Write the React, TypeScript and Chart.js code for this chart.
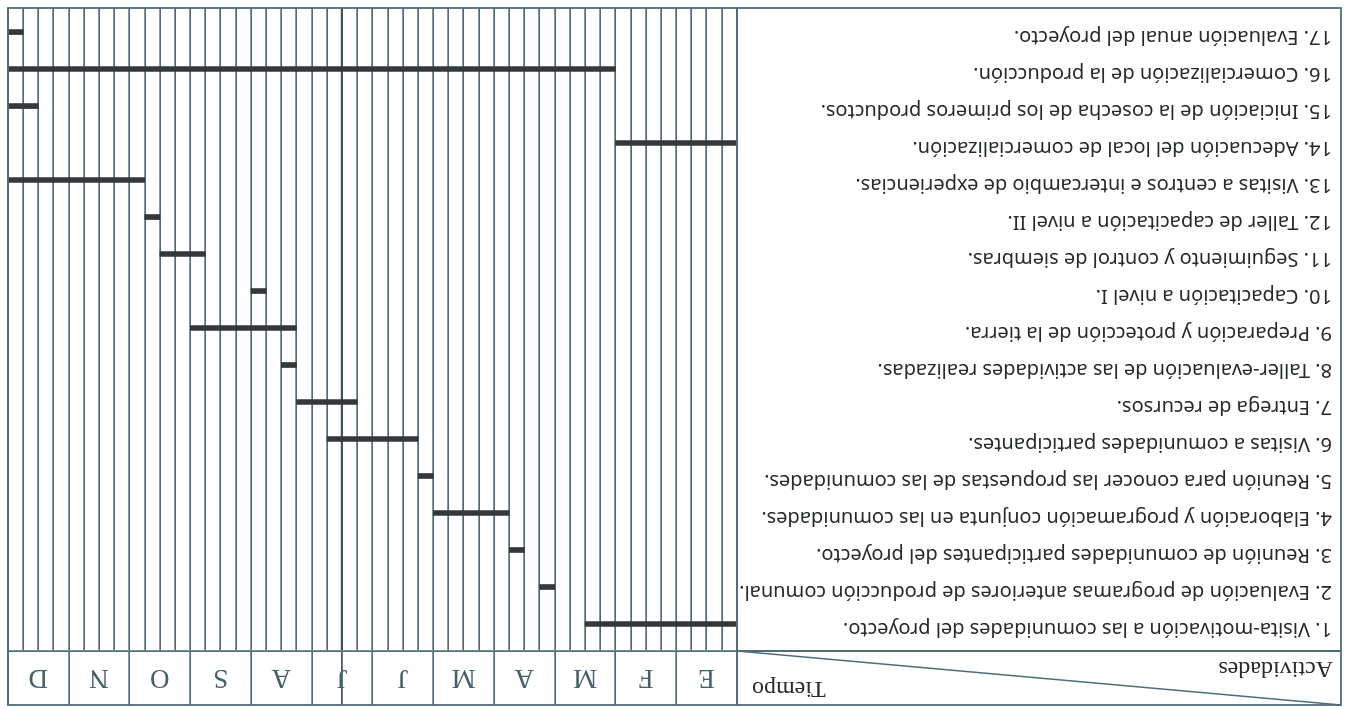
import React, { useEffect, useRef } from "react";
import { Chart, registerables } from "chart.js";

Chart.register(...registerables);

// ---- data ----
const months = ["E", "F", "M", "A", "M", "J", "J", "A", "S", "O", "N", "D"];
const weeksPerMonth = 4;
const activities = [
  "1. Visita-motivación a las comunidades del proyecto.",
  "2. Evaluación de programas anteriores de producción comunal.",
  "3. Reunión de comunidades participantes del proyecto.",
  "4. Elaboración y programación conjunta en las comunidades.",
  "5. Reunión para conocer las propuestas de las comunidades.",
  "6. Visitas a comunidades participantes.",
  "7. Entrega de recursos.",
  "8. Taller-evaluación de las actividades realizadas.",
  "9. Preparación y protección de la tierra.",
  "10. Capacitación a nivel I.",
  "11. Seguimiento y control de siembras.",
  "12. Taller de capacitación a nivel II.",
  "13. Visitas a centros e intercambio de experiencias.",
  "14. Adecuación del local de comercialización.",
  "15. Iniciación de la cosecha de los primeros productos.",
  "16. Comercialización de la producción.",
  "17. Evaluación anual del proyecto.",
];
// week index (0..48) where each activity starts / ends
const startWeek = [0, 12, 14, 15, 20, 21, 25, 29, 29, 31, 35, 38, 39, 0, 46, 8, 47];
const endWeek = [10, 13, 15, 20, 21, 27, 29, 30, 36, 32, 38, 39, 48, 8, 48, 48, 48];
const headerRowLabel = "Actividades";
const headerColLabel = "Tiempo";
const gutterWeek = 26;

// ---- styles ----
const W = 1348;
const H = 709;
const lineColor = "#4f6c79";
const darkLine = "#3a525c";
const textColor = "#262a2b";
const monthColor = "#46606b";
const serif = "'Liberation Serif', 'DejaVu Serif', serif";
const sans = "'Noto Sans', 'DejaVu Sans', sans-serif";
const frameLeft = 7;
const headerH = 54;

const framePlugin = {
  id: "frame",
  afterDraw(chart: any) {
    const { ctx, chartArea } = chart;
    const xs = chart.scales.x;
    const top = xs.top;
    const hb = chartArea.top;
    const left = frameLeft;
    const right = chartArea.right;
    const bottom = chartArea.bottom;
    ctx.save();
    ctx.strokeStyle = lineColor;
    ctx.lineWidth = 1.8;
    ctx.strokeRect(left, top, right - left, bottom - top);
    ctx.beginPath();
    ctx.moveTo(left, hb);
    ctx.lineTo(chartArea.left, hb);
    ctx.moveTo(chartArea.left, top);
    ctx.lineTo(chartArea.left, bottom);
    ctx.stroke();
    ctx.lineWidth = 1.5;
    ctx.beginPath();
    ctx.moveTo(left, top);
    ctx.lineTo(chartArea.left, hb);
    ctx.stroke();
    ctx.fillStyle = textColor;
    ctx.font = `24px ${serif}`;
    ctx.textBaseline = "alphabetic";
    ctx.textAlign = "left";
    ctx.fillText(headerRowLabel, left + 8, hb - 11);
    ctx.textAlign = "right";
    ctx.fillText(headerColLabel, chartArea.left - 15, top + 23);
    ctx.restore();
  },
};

export default function App() {
  const ref = useRef<HTMLCanvasElement | null>(null);

  useEffect(() => {
    const canvas = ref.current;
    if (!canvas) return;
    const totalWeeks = months.length * weeksPerMonth;
    const chart = new Chart(canvas, {
      type: "bar",
      data: {
        datasets: [
          {
            data: activities.map((_, i) => ({ y: i + 1, x: [startWeek[i], endWeek[i]] })) as any,
            backgroundColor: "#333839",
            borderWidth: 0,
            barThickness: 5,
          },
        ],
      },
      options: {
        indexAxis: "y",
        animation: false,
        responsive: false,
        layout: { padding: { left: 16, top: 4, right: 8, bottom: 8 } },
        plugins: {
          legend: { display: false },
          tooltip: { enabled: false },
        },
        scales: {
          x: {
            type: "linear",
            position: "top",
            min: 0,
            max: totalWeeks,
            afterBuildTicks: (s: any) => {
              s.ticks = Array.from({ length: totalWeeks + 1 }, (_, i) => ({ value: i }));
            },
            afterFit: (s: any) => {
              s.height = headerH;
              s.paddingLeft = 0;
              s.paddingRight = 0;
            },
            grid: {
              color: (c: any) => (c.tick && c.tick.value === gutterWeek ? darkLine : lineColor),
              lineWidth: (c: any) => (c.tick && c.tick.value === gutterWeek ? 2.2 : 1.7),
              drawTicks: true,
              tickLength: headerH,
              tickWidth: 1.7,
              tickColor: (c: any) => {
                const v = c.tick ? c.tick.value : -1;
                if (v === gutterWeek) return darkLine;
                return v % weeksPerMonth === 0 ? lineColor : "rgba(0,0,0,0)";
              },
            },
            border: { display: true, color: lineColor, width: 1.8 },
            ticks: {
              autoSkip: false,
              maxRotation: 0,
              minRotation: 0,
              padding: -41,
              color: monthColor,
              font: { family: serif, size: 27, lineHeight: 1 },
              callback: (v: any) =>
                v % weeksPerMonth === weeksPerMonth / 2 ? months[(v - weeksPerMonth / 2) / weeksPerMonth] : "",
            },
          },
          y: {
            type: "linear",
            position: "left",
            reverse: true,
            offset: false,
            min: 0.27,
            max: activities.length + 0.65,
            afterBuildTicks: (s: any) => {
              s.ticks = activities.map((_, i) => ({ value: i + 1 }));
            },
            afterFit: (s: any) => {
              s.width = 595;
              s.paddingTop = 0;
              s.paddingBottom = 0;
            },
            grid: { display: false },
            border: { display: false },
            ticks: {
              autoSkip: false,
              crossAlign: "far",
              labelOffset: -5,
              color: textColor,
              font: { family: sans, size: 20 },
              callback: (v: any) => activities[Math.round(v) - 1] ?? "",
            },
          },
        },
      } as any,
      plugins: [framePlugin],
    });
    return () => chart.destroy();
  }, []);

  return (
    <div
      style={{
        position: "fixed",
        left: 0,
        top: 0,
        width: W,
        height: H,
        background: "#fff",
        transform: "rotate(180deg)",
      }}
    >
      <canvas ref={ref} width={W} height={H} style={{ width: W, height: H, display: "block" }} />
    </div>
  );
}
